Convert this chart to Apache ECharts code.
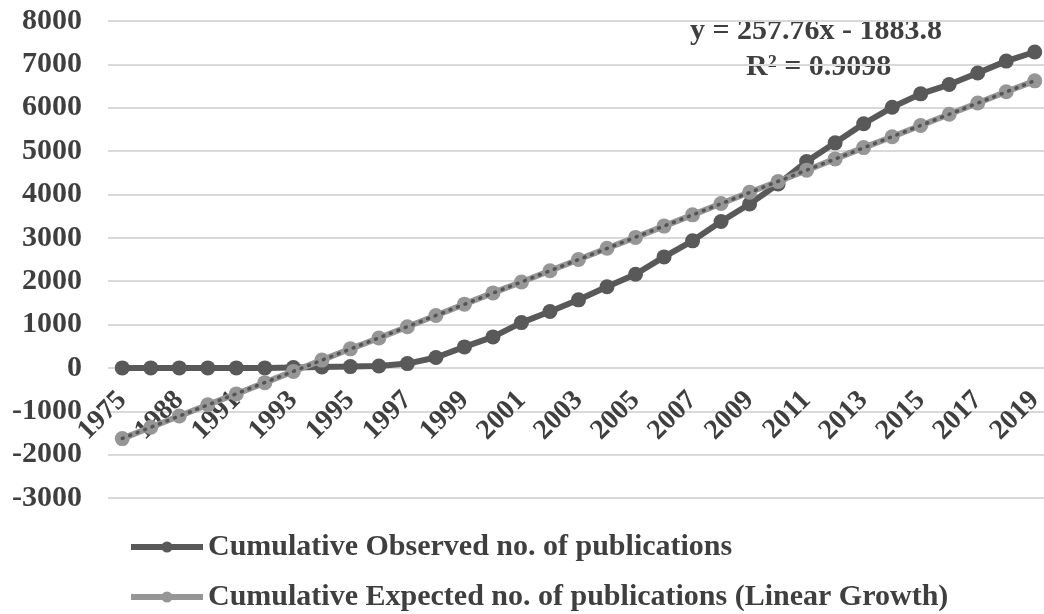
<!DOCTYPE html>
<html>
<head>
<meta charset="utf-8">
<script src="https://cdn.jsdelivr.net/npm/echarts@6/dist/echarts.min.js"></script>
<style>
  html, body { margin: 0; padding: 0; background: #fff; }
  #chart { width: 1044px; height: 614px; }
</style>
</head>
<body>
<div id="chart"></div>
<script>
// Publication years (categories along the x axis)
const years = ['1975', '1986', '1988', '1989', '1991', '1992', '1993', '1994', '1995', '1996',
  '1997', '1998', '1999', '2000', '2001', '2002', '2003', '2004', '2005', '2006',
  '2007', '2008', '2009', '2010', '2011', '2012', '2013', '2014', '2015', '2016',
  '2017', '2018', '2019'];

// Cumulative observed number of publications
const observed = [0, 0, 0, 0, 0, 0, 10, 20, 30, 45,
  100, 240, 485, 715, 1045, 1300, 1570, 1870, 2160, 2560,
  2930, 3375, 3780, 4240, 4760, 5190, 5630, 6010, 6320, 6535,
  6800, 7075, 7285];

// Cumulative expected number of publications under linear growth
const expected = [-1630, -1370, -1110, -850, -600, -340, -80, 180, 440, 690,
  950, 1210, 1470, 1730, 1980, 2240, 2500, 2760, 3010, 3270,
  3530, 3790, 4050, 4300, 4560, 4820, 5080, 5330, 5590, 5850,
  6110, 6370, 6620];

// Linear trendline of the observed series, as stated in the equation label
const trendSlope = 257.76;
const trendIntercept = -1883.8;
const trendR2 = 0.9098;

const yTicks = { min: -3000, max: 8000, step: 1000 };

const seriesNames = [
  'Cumulative Observed no. of publications',
  'Cumulative Expected no. of publications (Linear Growth)'
];

const serif = '"Liberation Serif", "DejaVu Serif", serif';
const textColor = '#3f3f3f';

const n = years.length;
const trendData = [
  [years[0], trendSlope * 1 + trendIntercept],
  [years[n - 1], trendSlope * n + trendIntercept]
];

const gridTop = 21;
const gridHeight = 477;
// distance from the bottom of the plot up to the zero line, so the year labels sit under it
const zeroLift = gridHeight * (0 - yTicks.min) / (yTicks.max - yTicks.min);

const chart = echarts.init(document.getElementById('chart'), null, { renderer: 'canvas' });

chart.setOption({
  backgroundColor: '#ffffff',
  animation: false,
  grid: {
    left: 108,
    top: gridTop,
    width: 941,
    height: gridHeight,
    containLabel: false,
    outerBoundsMode: 'none'
  },
  xAxis: {
    type: 'category',
    data: years,
    boundaryGap: true,
    position: 'bottom',
    offset: -zeroLift,
    axisLine: { show: false, onZero: false },
    axisTick: { show: false },
    axisLabel: {
      interval: 1,
      rotate: 45,
      margin: 28,
      fontFamily: serif,
      fontWeight: 'bold',
      fontSize: 28,
      color: textColor
    },
    splitLine: { show: false }
  },
  yAxis: {
    type: 'value',
    min: yTicks.min,
    max: yTicks.max,
    interval: yTicks.step,
    axisLine: { show: false },
    axisTick: { show: false },
    axisLabel: {
      margin: 26,
      fontFamily: serif,
      fontWeight: 'bold',
      fontSize: 30,
      color: textColor,
      formatter: (v) => String(v)
    },
    splitLine: { show: true, lineStyle: { color: '#d9d9d9', width: 2 } }
  },
  legend: {
    orient: 'vertical',
    left: 128,
    top: 532,
    padding: 0,
    itemWidth: 72,
    itemHeight: 14,
    itemGap: 20,
    data: seriesNames,
    lineStyle: { width: 6 },
    textStyle: {
      fontFamily: serif,
      fontWeight: 'bold',
      fontSize: 30,
      lineHeight: 30,
      color: textColor
    }
  },
  graphic: [
    {
      type: 'text',
      left: 690,
      top: 16,
      style: {
        text: 'y = ' + trendSlope.toFixed(2) + 'x - ' + Math.abs(trendIntercept).toFixed(1),
        font: 'bold 30px ' + serif,
        fill: textColor
      }
    },
    {
      type: 'text',
      left: 746,
      top: 52,
      style: {
        text: 'R\u00b2 = ' + trendR2.toFixed(4),
        font: 'bold 30px ' + serif,
        fill: textColor
      }
    }
  ],
  series: [
    {
      name: seriesNames[0],
      type: 'line',
      data: observed,
      symbol: 'circle',
      symbolSize: 15,
      lineStyle: { color: '#595959', width: 6 },
      itemStyle: { color: '#595959' },
      z: 2
    },
    {
      name: seriesNames[1],
      type: 'line',
      data: expected,
      symbol: 'circle',
      symbolSize: 15,
      lineStyle: { color: '#969696', width: 6 },
      itemStyle: { color: '#969696' },
      z: 3
    },
    {
      name: 'trend',
      type: 'line',
      data: trendData,
      symbol: 'none',
      lineStyle: { color: '#555555', width: 3.5, type: [1, 7], cap: 'round' },
      z: 4,
      silent: true
    }
  ]
});
</script>
</body>
</html>
